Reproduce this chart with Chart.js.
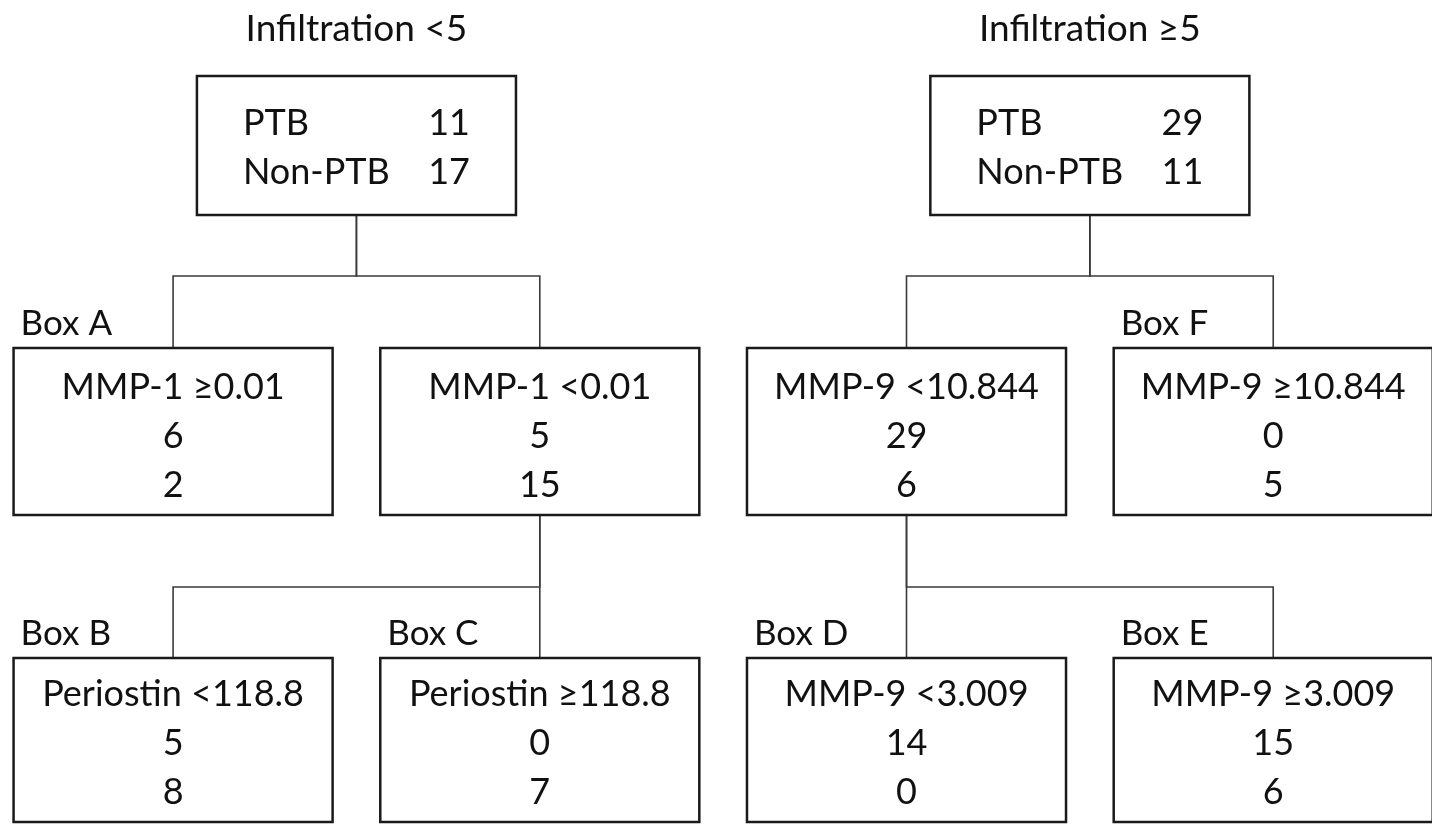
<!DOCTYPE html>
<html>
<head>
<meta charset="utf-8">
<script src="https://cdn.jsdelivr.net/npm/chart.js@4/dist/chart.umd.min.js"></script>
<style>
  html, body { margin: 0; padding: 0; background: #fff; }
  #wrap { width: 1432px; height: 824px; position: relative; }
</style>
</head>
<body>
<div id="wrap"><canvas id="treeChart" role="img" aria-label="Decision tree for PTB by infiltration, MMP-1, MMP-9 and periostin"></canvas></div>
<script>
'use strict';

// --- data ---
const TREE_TITLES    = ['Infiltration <5', 'Infiltration ≥5'];
const ROW_NAMES      = ['PTB', 'Non-PTB'];
const NODE_TAGS      = ['', 'Box A', '', 'Box B', 'Box C', '', '', 'Box F', 'Box D', 'Box E'];
const NODE_SPLITS    = [null, 'MMP-1 ≥0.01', 'MMP-1 <0.01', 'Periostin <118.8', 'Periostin ≥118.8',
                        null, 'MMP-9 <10.844', 'MMP-9 ≥10.844', 'MMP-9 <3.009', 'MMP-9 ≥3.009'];
const PTB_COUNTS     = [11, 6, 5, 5, 0, 29, 29, 0, 14, 15];
const NON_PTB_COUNTS = [17, 2, 15, 8, 7, 11, 6, 5, 0, 6];
const NODE_PARENT    = [-1, 0, 0, 2, 2, -1, 5, 5, 6, 6];

// --- layout (axis units) ---
const NODE_COL     = [0.5, 0, 1, 0, 1, 2.5, 2, 3, 2, 3];
const NODE_LEVEL   = [0, 1, 1, 2, 2, 0, 1, 1, 2, 2];
const LEVEL_TOP    = [76, 348, 658];
const LEVEL_BOTTOM = [215, 515, 822];
const BRANCH_Y     = [276, 587];
const BOX_HALF_W   = 0.435;

const FONT = 'Lato, "Open Sans", sans-serif';
const INK  = '#111';

const treePlugin = {
  id: 'treeBoxes',
  afterDatasetsDraw(chart) {
    const { ctx } = chart;
    const sx = chart.scales.x;
    const sy = chart.scales.y;
    const px = v => sx.getPixelForValue(v);
    const py = v => sy.getPixelForValue(v);

    ctx.save();

    // connectors
    ctx.strokeStyle = '#3a3a3a';
    ctx.lineWidth = 1.6;
    NODE_PARENT.forEach((p, i) => {
      if (p < 0) return;
      const lvl = NODE_LEVEL[p];
      const midY = py(BRANCH_Y[lvl]);
      ctx.beginPath();
      ctx.moveTo(px(NODE_COL[p]), py(LEVEL_BOTTOM[lvl]));
      ctx.lineTo(px(NODE_COL[p]), midY);
      ctx.lineTo(px(NODE_COL[i]), midY);
      ctx.lineTo(px(NODE_COL[i]), py(LEVEL_TOP[NODE_LEVEL[i]]));
      ctx.stroke();
    });

    // boxes
    NODE_COL.forEach((c, i) => {
      const lvl = NODE_LEVEL[i];
      const x0 = px(c - BOX_HALF_W), x1 = px(c + BOX_HALF_W);
      const y0 = py(LEVEL_TOP[lvl]), y1 = py(LEVEL_BOTTOM[lvl]);
      ctx.fillStyle = '#fff';
      ctx.fillRect(x0, y0, x1 - x0, y1 - y0);
      ctx.strokeStyle = '#1a1a1a';
      ctx.lineWidth = 2.5;
      ctx.strokeRect(x0, y0, x1 - x0, y1 - y0);

      ctx.fillStyle = INK;
      ctx.textBaseline = 'alphabetic';
      ctx.font = '36px ' + FONT;
      if (lvl === 0) {
        const rows = [PTB_COUNTS[i], NON_PTB_COUNTS[i]];
        rows.forEach((n, r) => {
          const y = y0 + 59 + r * 49;
          ctx.textAlign = 'left';
          ctx.fillText(ROW_NAMES[r], x0 + 46, y);
          ctx.textAlign = 'right';
          ctx.fillText(String(n), x1 - 46, y);
        });
      } else {
        ctx.textAlign = 'center';
        const cx = px(c);
        const top = lvl === 1 ? 51 : 48;
        ctx.fillText(NODE_SPLITS[i], cx, y0 + top);
        ctx.fillText(String(PTB_COUNTS[i]), cx, y0 + top + 49);
        ctx.fillText(String(NON_PTB_COUNTS[i]), cx, y0 + top + 98);
      }

      if (NODE_TAGS[i]) {
        ctx.font = '35px ' + FONT;
        ctx.textAlign = 'left';
        ctx.fillText(NODE_TAGS[i], x0 + 7, y0 - 13);
      }
    });

    // tree titles above the roots
    ctx.font = '37px ' + FONT;
    ctx.textAlign = 'center';
    ctx.fillStyle = INK;
    let t = 0;
    NODE_PARENT.forEach((p, i) => {
      if (p >= 0) return;
      ctx.fillText(TREE_TITLES[t++], px(NODE_COL[i]), py(41));
    });

    ctx.restore();
  },
};

new Chart(document.getElementById('treeChart'), {
  type: 'scatter',
  data: {
    datasets: [{
      data: NODE_COL.map((c, i) => ({ x: c, y: LEVEL_TOP[NODE_LEVEL[i]] })),
      pointRadius: 0,
    }],
  },
  options: {
    responsive: true,
    maintainAspectRatio: false,
    animation: false,
    layout: { padding: 0 },
    plugins: { legend: { display: false }, tooltip: { enabled: false } },
    scales: {
      x: { type: 'linear', display: false, min: -0.472, max: 3.433 },
      y: { type: 'linear', display: false, min: 0, max: 824, reverse: true },
    },
  },
  plugins: [treePlugin],
});
</script>
</body>
</html>
